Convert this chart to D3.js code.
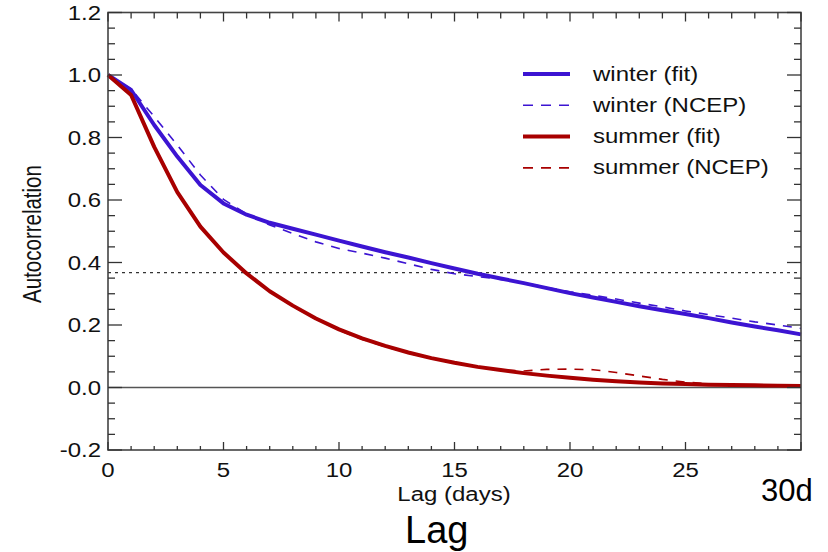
<!DOCTYPE html>
<html>
<head>
<meta charset="utf-8">
<script src="https://cdn.jsdelivr.net/npm/d3@7"></script>
<style>
  html, body { margin: 0; padding: 0; background: #fff; }
  svg { display: block; }
  text { font-family: "Liberation Sans", Arial, Helvetica, sans-serif; }
</style>
</head>
<body>
<svg id="chart" width="828" height="552"></svg>
<script>
// ---------------- data ----------------
const lags = d3.range(0, 31);
const winterFit = [1.0, 0.952, 0.84, 0.739, 0.648, 0.589, 0.553, 0.527, 0.508, 0.489, 0.47,
  0.451, 0.433, 0.416, 0.398, 0.381, 0.364, 0.349, 0.334, 0.318, 0.302,
  0.288, 0.274, 0.26, 0.247, 0.235, 0.222, 0.208, 0.195, 0.183, 0.170];
const winterNCEP = [1.0, 0.955, 0.867, 0.776, 0.68, 0.602, 0.555, 0.52, 0.493, 0.466, 0.445,
  0.43, 0.414, 0.396, 0.378, 0.364, 0.355, 0.346, 0.335, 0.32, 0.306,
  0.295, 0.283, 0.27, 0.258, 0.245, 0.233, 0.222, 0.21, 0.2, 0.189];
const summerFit = [1.0, 0.936, 0.77, 0.625, 0.515, 0.432, 0.365, 0.308, 0.262, 0.221, 0.186,
  0.157, 0.133, 0.112, 0.094, 0.079, 0.066, 0.056, 0.046, 0.038, 0.031,
  0.025, 0.02, 0.016, 0.013, 0.011, 0.009, 0.008, 0.007, 0.006, 0.005];
const summerNCEP = [1.0, 0.934, 0.772, 0.627, 0.513, 0.433, 0.367, 0.309, 0.259, 0.219, 0.183,
  0.154, 0.131, 0.11, 0.093, 0.078, 0.066, 0.056, 0.053, 0.058, 0.059,
  0.057, 0.048, 0.037, 0.026, 0.017, 0.012, 0.009, 0.007, 0.006, 0.005];
const efold = 1 / Math.E;
const xTickLabels = [0, 5, 10, 15, 20, 25];
const yTickLabels = ["-0.2", "0.0", "0.2", "0.4", "0.6", "0.8", "1.0", "1.2"];
const seriesNames = ["winter (fit)", "winter (NCEP)", "summer (fit)", "summer (NCEP)"];
const seriesData = [winterFit, winterNCEP, summerFit, summerNCEP];
const seriesColors = ["#3c14d2", "#3c14d2", "#a80000", "#a80000"];
const seriesDashed = [false, true, false, true];

// ---------------- layout ----------------
const L = 108, R = 801, T = 12.5, B = 450;
const SX = 1.23; // horizontal text stretch
const FS = 19.5;
const svg = d3.select("#chart");
const x = d3.scaleLinear().domain([0, 30]).range([L, R]);
const y = d3.scaleLinear().domain([-0.2, 1.2]).range([B, T]);

function stext(px, py, str, opts = {}) {
  const g = svg.append("g").attr("transform",
    `translate(${px},${py}) scale(${opts.sx ?? SX},1)` + (opts.rot ? ` rotate(${opts.rot})` : ""));
  g.append("text")
    .attr("x", 0).attr("y", 0)
    .attr("text-anchor", opts.anchor || "start")
    .attr("font-size", opts.size || FS)
    .attr("fill", opts.fill || "#111")
    .text(str);
  return g;
}

// reference lines
svg.append("line").attr("x1", L).attr("x2", R).attr("y1", y(0)).attr("y2", y(0))
  .attr("stroke", "#555").attr("stroke-width", 1.5);
svg.append("line").attr("x1", L).attr("x2", R).attr("y1", y(efold)).attr("y2", y(efold))
  .attr("stroke", "#333").attr("stroke-width", 1.2).attr("stroke-dasharray", "3,4");

// curves
const line = d3.line().x((d, i) => x(lags[i])).y(d => y(d)).curve(d3.curveLinear);
[0, 1, 2, 3].forEach(k => {
  svg.append("path")
    .datum(seriesData[k])
    .attr("d", line)
    .attr("fill", "none")
    .attr("stroke", seriesColors[k])
    .attr("stroke-width", seriesDashed[k] ? 1.6 : 4)
    .attr("stroke-linejoin", "round")
    .attr("stroke-dasharray", seriesDashed[k] ? "9,8" : null);
});

// frame
svg.append("rect").attr("x", L).attr("y", T).attr("width", R - L).attr("height", B - T)
  .attr("fill", "none").attr("stroke", "#444").attr("stroke-width", 1.6);

// y ticks (left and right)
const yMinor = d3.range(-0.2, 1.2001, 0.05);
yMinor.forEach(v => {
  const major = Math.abs(Math.round(v * 5) - v * 5) < 1e-6;
  const len = major ? 14 : 7;
  const yy = y(v);
  svg.append("line").attr("x1", L).attr("x2", L + len).attr("y1", yy).attr("y2", yy)
    .attr("stroke", "#333").attr("stroke-width", 1.3);
  svg.append("line").attr("x1", R - len).attr("x2", R).attr("y1", yy).attr("y2", yy)
    .attr("stroke", "#333").attr("stroke-width", 1.3);
});
// x ticks (bottom and top)
d3.range(0, 31, 1).forEach(v => {
  const major = v % 5 === 0;
  const xx = x(v);
  svg.append("line").attr("x1", xx).attr("x2", xx).attr("y1", B).attr("y2", B - (major ? 8 : 4))
    .attr("stroke", "#333").attr("stroke-width", 1.3);
  svg.append("line").attr("x1", xx).attr("x2", xx).attr("y1", T).attr("y2", T + (major ? 9 : 6))
    .attr("stroke", "#333").attr("stroke-width", 1.3);
});

// tick labels
yTickLabels.forEach(s => {
  stext(101, y(+s) + 7, s, { anchor: "end" });
});
xTickLabels.forEach(v => {
  stext(x(v), 477, String(v), { anchor: "middle" });
});

// axis titles
stext(454, 501, "Lag (days)", { anchor: "middle" });
stext(41, 234, "Autocorrelation", { anchor: "middle", rot: -90, size: 20.5 });

// extra annotations
stext(761, 501, "30d", { sx: 1, size: 31, fill: "#000" });
stext(405, 543, "Lag", { sx: 1, size: 38, fill: "#000" });

// legend
const legY0 = 74, legDy = 31.3;
seriesNames.forEach((name, k) => {
  const yy = legY0 + k * legDy;
  svg.append("line").attr("x1", 523).attr("x2", 570).attr("y1", yy).attr("y2", yy)
    .attr("stroke", seriesColors[k])
    .attr("stroke-width", seriesDashed[k] ? 1.6 : 4)
    .attr("stroke-dasharray", seriesDashed[k] ? "10,8" : null);
  stext(593, yy + 6.5, name);
});
</script>
</body>
</html>
